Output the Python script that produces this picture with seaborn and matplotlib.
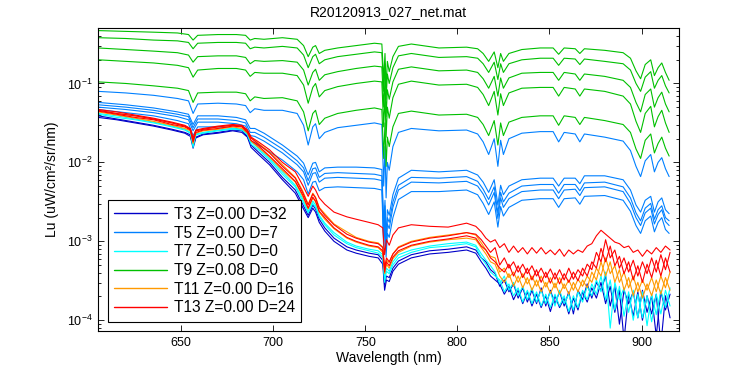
import numpy as np
import pandas as pd
import matplotlib
matplotlib.use("Agg")
import matplotlib.pyplot as plt
from matplotlib.lines import Line2D
import seaborn as sns

# wavelength grids (nm): upper spectra (T5, T9) and lower, noisier spectra
wl_up = [605, 620, 635, 648, 654, 656.5, 659, 670, 680, 685,
         687.5, 690, 695, 705, 713, 716.5, 719, 721.5, 723, 725,
         728, 735, 745, 755, 759, 760, 760.7, 761.3, 762, 763,
         765, 768, 775, 790, 805, 811, 814, 817, 820, 822,
         823.5, 825, 828, 835, 845, 852, 855, 858, 864, 866.5,
         869, 880, 890, 894, 897, 899.5, 902, 905, 907, 909,
         911, 913, 915]
wl_lo = [605, 615, 625, 635, 645, 652, 655, 656.5, 658, 662,
         670, 678, 683, 686, 688, 692, 698, 705, 712, 716,
         719, 721.5, 723, 725, 728, 733, 740, 745, 752, 757,
         759.5, 760.5, 761.5, 763, 765, 768, 775, 785, 795, 805,
         810, 813, 815.5, 818, 820.5, 823, 825.5, 828, 830.5, 833,
         835.5, 838, 840.5, 843, 845.5, 848, 850.5, 853, 855.5, 858,
         860.5, 863, 865.5, 868, 870.5, 873, 875.5, 878, 880.5, 883,
         885.5, 888, 890.5, 893, 895.5, 898, 900.5, 903, 905.5, 908,
         910.5, 913, 915.5]

# log10(Lu), one list per cast
t9_1 = [-0.33, -0.34, -0.35, -0.36, -0.38, -0.45, -0.39, -0.38, -0.38, -0.39,
        -0.45, -0.43, -0.44, -0.42, -0.44, -0.52, -0.66, -0.54, -0.52, -0.62,
        -0.58, -0.55, -0.52, -0.49, -0.50, -0.95, -0.62, -1.05, -0.72, -0.85,
        -0.66, -0.53, -0.50, -0.55, -0.54, -0.56, -0.62, -0.72, -0.60, -0.80,
        -0.62, -0.72, -0.62, -0.57, -0.55, -0.55, -0.63, -0.55, -0.56, -0.62,
        -0.56, -0.58, -0.61, -0.68, -0.84, -0.94, -0.76, -0.70, -0.90, -0.80,
        -0.74, -0.86, -0.96]
t9_2 = [-0.42, -0.43, -0.45, -0.46, -0.48, -0.56, -0.49, -0.48, -0.48, -0.49,
        -0.56, -0.54, -0.55, -0.53, -0.55, -0.64, -0.80, -0.66, -0.63, -0.75,
        -0.70, -0.66, -0.63, -0.60, -0.61, -1.10, -0.75, -1.20, -0.88, -1.00,
        -0.80, -0.65, -0.62, -0.67, -0.66, -0.68, -0.75, -0.86, -0.73, -0.95,
        -0.75, -0.86, -0.75, -0.70, -0.68, -0.68, -0.77, -0.68, -0.69, -0.76,
        -0.69, -0.72, -0.75, -0.83, -1.00, -1.10, -0.92, -0.85, -1.06, -0.96,
        -0.90, -1.03, -1.12]
t9_3 = [-0.55, -0.57, -0.59, -0.61, -0.64, -0.73, -0.66, -0.65, -0.65, -0.67,
        -0.75, -0.71, -0.72, -0.71, -0.73, -0.83, -1.02, -0.86, -0.82, -0.96,
        -0.89, -0.85, -0.81, -0.78, -0.79, -1.30, -0.95, -1.42, -1.08, -1.20,
        -0.98, -0.82, -0.79, -0.84, -0.83, -0.86, -0.94, -1.06, -0.91, -1.16,
        -0.93, -1.06, -0.93, -0.87, -0.86, -0.86, -0.96, -0.86, -0.88, -0.96,
        -0.88, -0.91, -0.96, -1.05, -1.24, -1.36, -1.14, -1.07, -1.30, -1.18,
        -1.11, -1.26, -1.36]
t9_4 = [-0.70, -0.72, -0.74, -0.77, -0.80, -0.92, -0.83, -0.81, -0.81, -0.83,
        -0.91, -0.86, -0.87, -0.87, -0.90, -1.02, -1.25, -1.05, -1.00, -1.17,
        -1.09, -1.04, -1.00, -0.97, -0.98, -1.55, -1.15, -1.68, -1.30, -1.44,
        -1.18, -1.01, -0.97, -1.02, -1.01, -1.05, -1.14, -1.28, -1.10, -1.40,
        -1.13, -1.28, -1.12, -1.06, -1.05, -1.05, -1.16, -1.05, -1.07, -1.16,
        -1.07, -1.10, -1.16, -1.26, -1.48, -1.62, -1.38, -1.29, -1.55, -1.42,
        -1.34, -1.50, -1.62]
t9_5 = [-0.98, -1.00, -1.03, -1.06, -1.09, -1.24, -1.12, -1.11, -1.11, -1.13,
        -1.22, -1.17, -1.19, -1.18, -1.22, -1.36, -1.60, -1.38, -1.34, -1.52,
        -1.44, -1.38, -1.34, -1.31, -1.33, -1.95, -1.50, -2.05, -1.68, -1.80,
        -1.55, -1.38, -1.35, -1.40, -1.39, -1.43, -1.52, -1.66, -1.47, -1.78,
        -1.50, -1.66, -1.49, -1.43, -1.41, -1.41, -1.53, -1.41, -1.43, -1.52,
        -1.43, -1.47, -1.52, -1.62, -1.83, -1.95, -1.72, -1.64, -1.88, -1.76,
        -1.68, -1.82, -1.92]

t5_1 = [-1.10, -1.12, -1.15, -1.19, -1.22, -1.38, -1.26, -1.25, -1.26, -1.28,
        -1.37, -1.32, -1.34, -1.34, -1.38, -1.53, -1.78, -1.55, -1.51, -1.70,
        -1.62, -1.56, -1.53, -1.50, -1.52, -2.30, -1.80, -2.45, -2.00, -2.10,
        -1.80, -1.62, -1.57, -1.60, -1.59, -1.64, -1.74, -1.90, -1.70, -2.05,
        -1.72, -1.90, -1.70, -1.63, -1.61, -1.61, -1.74, -1.62, -1.64, -1.74,
        -1.64, -1.68, -1.73, -1.85, -2.05, -2.18, -1.98, -1.90, -2.12, -2.00,
        -1.94, -2.08, -2.18]
t5_2 = [-1.24, -1.27, -1.31, -1.36, -1.39, -1.52, -1.41, -1.41, -1.43, -1.46,
        -1.57, -1.57, -1.63, -1.78, -1.92, -2.01, -2.16, -2.01, -2.00, -2.12,
        -2.07, -2.06, -2.06, -2.07, -2.09, -2.79, -2.48, -2.98, -2.60, -2.67,
        -2.41, -2.20, -2.10, -2.12, -2.10, -2.16, -2.25, -2.38, -2.22, -2.54,
        -2.29, -2.41, -2.30, -2.22, -2.20, -2.20, -2.30, -2.20, -2.20, -2.27,
        -2.17, -2.17, -2.22, -2.35, -2.54, -2.63, -2.48, -2.43, -2.63, -2.50,
        -2.45, -2.60, -2.65]
t5_3 = [-1.27, -1.30, -1.34, -1.39, -1.42, -1.56, -1.45, -1.45, -1.47, -1.50,
        -1.62, -1.62, -1.68, -1.83, -1.98, -2.07, -2.23, -2.08, -2.07, -2.19,
        -2.14, -2.13, -2.14, -2.15, -2.17, -2.90, -2.55, -3.05, -2.70, -2.76,
        -2.50, -2.29, -2.19, -2.20, -2.18, -2.24, -2.34, -2.47, -2.31, -2.64,
        -2.38, -2.50, -2.39, -2.30, -2.28, -2.28, -2.39, -2.28, -2.28, -2.36,
        -2.26, -2.25, -2.31, -2.45, -2.64, -2.74, -2.58, -2.52, -2.72, -2.60,
        -2.55, -2.70, -2.74]
t5_4 = [-1.30, -1.33, -1.37, -1.42, -1.46, -1.60, -1.49, -1.49, -1.51, -1.54,
        -1.66, -1.67, -1.73, -1.88, -2.03, -2.12, -2.29, -2.14, -2.13, -2.25,
        -2.20, -2.19, -2.20, -2.21, -2.23, -3.00, -2.62, -3.12, -2.78, -2.84,
        -2.57, -2.35, -2.25, -2.26, -2.24, -2.30, -2.40, -2.54, -2.38, -2.71,
        -2.45, -2.57, -2.46, -2.37, -2.35, -2.35, -2.46, -2.35, -2.34, -2.42,
        -2.32, -2.31, -2.37, -2.52, -2.70, -2.80, -2.64, -2.58, -2.78, -2.66,
        -2.60, -2.75, -2.80]
t5_5 = [-1.33, -1.37, -1.41, -1.47, -1.51, -1.66, -1.55, -1.55, -1.57, -1.61,
        -1.73, -1.75, -1.82, -1.97, -2.12, -2.22, -2.40, -2.25, -2.24, -2.36,
        -2.32, -2.31, -2.32, -2.33, -2.35, -3.10, -2.75, -3.20, -2.90, -2.95,
        -2.70, -2.47, -2.37, -2.37, -2.35, -2.41, -2.52, -2.66, -2.50, -2.82,
        -2.56, -2.68, -2.57, -2.48, -2.46, -2.46, -2.57, -2.46, -2.45, -2.53,
        -2.43, -2.42, -2.48, -2.62, -2.80, -2.90, -2.74, -2.68, -2.88, -2.76,
        -2.70, -2.85, -2.90]

t13_1 = [-1.34, -1.38, -1.41, -1.45, -1.50, -1.54, -1.58, -1.72, -1.60, -1.58,
         -1.55, -1.53, -1.54, -1.60, -1.69, -1.77, -1.88, -2.05, -2.20, -2.38,
         -2.54, -2.40, -2.45, -2.58, -2.67, -2.79, -2.91, -2.96, -3.01, -3.03,
         -3.08, -3.34, -3.21, -3.26, -3.16, -3.08, -3.01, -2.96, -2.93, -2.89,
         -2.91, -2.98, -3.06, -3.14, -3.08, -3.30, -3.21, -3.34, -3.26, -3.39,
         -3.29, -3.41, -3.31, -3.44, -3.34, -3.46, -3.35, -3.48, -3.36, -3.49,
         -3.34, -3.48, -3.36, -3.44, -3.29, -3.36, -3.14, -3.26, -2.98, -3.21,
         -3.11, -3.34, -3.21, -3.39, -3.24, -3.44, -3.26, -3.41, -3.21, -3.39,
         -3.17, -3.36, -3.14]
t13_2 = [-1.35, -1.39, -1.43, -1.46, -1.52, -1.55, -1.59, -1.74, -1.62, -1.59,
         -1.57, -1.54, -1.55, -1.62, -1.72, -1.79, -1.92, -2.08, -2.24, -2.41,
         -2.58, -2.44, -2.49, -2.62, -2.70, -2.83, -2.95, -3.00, -3.05, -3.07,
         -3.12, -3.39, -3.26, -3.31, -3.20, -3.12, -3.05, -3.00, -2.97, -2.93,
         -2.96, -3.06, -3.11, -3.21, -3.26, -3.34, -3.39, -3.29, -3.44, -3.31,
         -3.46, -3.34, -3.49, -3.36, -3.52, -3.39, -3.53, -3.40, -3.54, -3.41,
         -3.52, -3.39, -3.50, -3.34, -3.44, -3.26, -3.34, -3.09, -3.26, -3.06,
         -3.31, -3.19, -3.41, -3.26, -3.49, -3.31, -3.52, -3.29, -3.46, -3.24,
         -3.44, -3.21, -3.39]
t13_3 = [-1.33, -1.36, -1.40, -1.44, -1.49, -1.53, -1.57, -1.69, -1.59, -1.57,
         -1.54, -1.52, -1.53, -1.59, -1.68, -1.74, -1.84, -2.00, -2.12, -2.29,
         -2.43, -2.30, -2.35, -2.45, -2.53, -2.63, -2.69, -2.72, -2.76, -2.79,
         -2.83, -3.17, -2.98, -3.05, -2.92, -2.83, -2.79, -2.81, -2.82, -2.77,
         -2.81, -2.88, -2.96, -3.01, -2.98, -3.08, -3.03, -3.14, -3.06, -3.14,
         -3.08, -3.16, -3.08, -3.15, -3.08, -3.16, -3.11, -3.17, -3.10, -3.19,
         -3.11, -3.16, -3.11, -3.14, -3.06, -3.03, -2.93, -2.86, -2.91, -2.96,
         -3.01, -3.03, -3.08, -3.06, -3.14, -3.11, -3.19, -3.11, -3.16, -3.08,
         -3.14, -3.06, -3.11]

t11_1 = [-1.34, -1.38, -1.41, -1.45, -1.50, -1.54, -1.58, -1.73, -1.60, -1.58,
         -1.55, -1.53, -1.54, -1.60, -1.69, -1.76, -1.87, -2.03, -2.19, -2.36,
         -2.53, -2.39, -2.44, -2.57, -2.65, -2.78, -2.88, -2.95, -3.00, -3.02,
         -3.07, -3.36, -3.24, -3.27, -3.16, -3.07, -3.00, -2.95, -2.92, -2.89,
         -2.92, -3.02, -3.11, -3.19, -3.21, -3.39, -3.34, -3.46, -3.39, -3.52,
         -3.41, -3.54, -3.44, -3.57, -3.44, -3.58, -3.46, -3.59, -3.46, -3.60,
         -3.49, -3.62, -3.48, -3.57, -3.44, -3.52, -3.34, -3.44, -3.21, -3.41,
         -3.31, -3.52, -3.39, -3.59, -3.44, -3.64, -3.49, -3.62, -3.46, -3.64,
         -3.44, -3.59, -3.39]
t11_2 = [-1.36, -1.40, -1.44, -1.48, -1.53, -1.57, -1.60, -1.76, -1.63, -1.60,
         -1.58, -1.55, -1.57, -1.63, -1.73, -1.81, -1.93, -2.10, -2.25, -2.43,
         -2.59, -2.45, -2.50, -2.63, -2.72, -2.84, -2.96, -3.01, -3.06, -3.08,
         -3.14, -3.41, -3.29, -3.34, -3.22, -3.14, -3.06, -3.01, -2.98, -2.96,
         -2.98, -3.08, -3.16, -3.26, -3.29, -3.44, -3.52, -3.41, -3.57, -3.44,
         -3.59, -3.46, -3.62, -3.49, -3.64, -3.52, -3.66, -3.53, -3.67, -3.54,
         -3.67, -3.52, -3.64, -3.49, -3.59, -3.39, -3.49, -3.26, -3.44, -3.26,
         -3.52, -3.36, -3.62, -3.46, -3.69, -3.52, -3.72, -3.54, -3.69, -3.49,
         -3.67, -3.46, -3.62]

t7_1 = [-1.38, -1.41, -1.45, -1.49, -1.54, -1.58, -1.62, -1.78, -1.64, -1.62,
        -1.59, -1.57, -1.58, -1.64, -1.74, -1.82, -1.95, -2.12, -2.29, -2.46,
        -2.62, -2.49, -2.54, -2.67, -2.77, -2.89, -3.01, -3.06, -3.10, -3.12,
        -3.17, -3.46, -3.34, -3.38, -3.26, -3.17, -3.11, -3.06, -3.03, -3.01,
        -3.05, -3.16, -3.24, -3.31, -3.39, -3.54, -3.44, -3.62, -3.52, -3.69,
        -3.57, -3.74, -3.59, -3.77, -3.62, -3.79, -3.64, -3.82, -3.62, -3.79,
        -3.67, -3.87, -3.64, -3.77, -3.57, -3.69, -3.49, -3.64, -3.39, -4.10,
        -3.52, -3.74, -3.59, -3.90, -3.62, -3.97, -3.64, -4.07, -3.67, -3.93,
        -3.62, -3.84, -3.59]
t7_2 = [-1.39, -1.43, -1.46, -1.50, -1.55, -1.59, -1.63, -1.81, -1.65, -1.63,
        -1.60, -1.58, -1.59, -1.65, -1.77, -1.84, -1.97, -2.15, -2.31, -2.49,
        -2.64, -2.52, -2.57, -2.69, -2.79, -2.92, -3.03, -3.08, -3.12, -3.15,
        -3.20, -3.52, -3.38, -3.41, -3.30, -3.21, -3.14, -3.08, -3.06, -3.03,
        -3.07, -3.21, -3.29, -3.39, -3.44, -3.49, -3.64, -3.54, -3.69, -3.59,
        -3.77, -3.62, -3.79, -3.64, -3.82, -3.67, -3.84, -3.67, -3.82, -3.69,
        -3.89, -3.69, -3.84, -3.62, -3.74, -3.54, -3.67, -3.44, -3.74, -3.49,
        -3.87, -3.57, -3.95, -3.64, -4.00, -3.67, -3.97, -3.69, -4.02, -3.67,
        -3.92, -3.62, -3.82]

t3_1 = [-1.41, -1.45, -1.49, -1.53, -1.58, -1.62, -1.65, -1.79, -1.68, -1.64,
        -1.62, -1.59, -1.60, -1.67, -1.78, -1.87, -2.00, -2.19, -2.35, -2.53,
        -2.67, -2.54, -2.59, -2.72, -2.83, -2.96, -3.07, -3.11, -3.15, -3.17,
        -3.24, -3.55, -3.44, -3.46, -3.34, -3.25, -3.17, -3.12, -3.10, -3.07,
        -3.11, -3.21, -3.26, -3.36, -3.41, -3.57, -3.49, -3.64, -3.54, -3.72,
        -3.59, -3.77, -3.62, -3.79, -3.59, -3.82, -3.62, -3.79, -3.64, -3.82,
        -3.64, -3.92, -3.62, -3.74, -3.54, -3.72, -3.52, -3.62, -3.44, -3.82,
        -3.57, -4.05, -3.62, -3.79, -3.64, -3.97, -3.62, -3.90, -3.69, -4.20,
        -3.64, -3.87, -3.67]
t3_2 = [-1.43, -1.46, -1.50, -1.54, -1.59, -1.63, -1.67, -1.82, -1.69, -1.65,
        -1.63, -1.60, -1.62, -1.68, -1.81, -1.90, -2.03, -2.22, -2.39, -2.57,
        -2.70, -2.58, -2.63, -2.76, -2.87, -3.00, -3.11, -3.15, -3.19, -3.21,
        -3.29, -3.62, -3.49, -3.51, -3.38, -3.29, -3.21, -3.16, -3.14, -3.11,
        -3.15, -3.26, -3.34, -3.44, -3.49, -3.54, -3.67, -3.57, -3.74, -3.62,
        -3.79, -3.64, -3.82, -3.67, -3.84, -3.69, -3.89, -3.69, -3.84, -3.72,
        -3.92, -3.72, -3.87, -3.64, -3.77, -3.59, -3.72, -3.52, -3.79, -3.57,
        -3.90, -3.62, -4.25, -3.67, -3.95, -3.64, -4.00, -3.69, -3.92, -3.67,
        -4.31, -3.69, -3.97]

labels = ["T3 Z=0.00 D=32", "T5 Z=0.00 D=7", "T7 Z=0.50 D=0",
          "T9 Z=0.08 D=0", "T11 Z=0.00 D=16", "T13 Z=0.00 D=24"]
colors = ["#0000c8", "#0080ff", "#00ffff", "#00c000", "#ff9900", "#ff0000"]

casts = [
    (labels[0], [t3_1, t3_2], wl_lo),
    (labels[1], [t5_1, t5_2, t5_3, t5_4, t5_5], wl_up),
    (labels[2], [t7_1, t7_2], wl_lo),
    (labels[3], [t9_1, t9_2, t9_3, t9_4, t9_5], wl_up),
    (labels[4], [t11_1, t11_2], wl_lo),
    (labels[5], [t13_1, t13_2, t13_3], wl_lo),
]

frames = []
for station, spectra, wl in casts:
    for i, lg in enumerate(spectra):
        frames.append(pd.DataFrame({
            "wavelength": wl,
            "lu": 10 ** np.asarray(lg),
            "station": station,
            "cast": f"{station}#{i}",
        }))
df = pd.concat(frames, ignore_index=True)

sns.set_style("ticks", {"axes.edgecolor": "black", "text.color": "black",
                        "axes.labelcolor": "black", "xtick.color": "black",
                        "ytick.color": "black"})
plt.rcParams["font.family"] = ["Liberation Sans", "DejaVu Sans"]

fig = plt.figure(figsize=(7.5, 3.75), dpi=100)
ax = fig.add_axes([0.131, 0.1173, 0.7747, 0.8072])
ax.set_yscale("log")

sns.lineplot(data=df, x="wavelength", y="lu", hue="station", hue_order=labels,
             palette=colors, units="cast", estimator=None, sort=False,
             linewidth=0.8, legend=False, ax=ax)

ax.set_xlim(605, 920.5)
ax.set_ylim(7.3e-5, 0.5)
ax.set_xticks([650, 700, 750, 800, 850, 900])
ax.tick_params(which="both", direction="in", top=True, right=True,
               width=0.6, labelsize=9, pad=4)
ax.tick_params(which="major", length=4.5)
ax.tick_params(which="minor", length=2.2)
for s in ax.spines.values():
    s.set_linewidth(0.8)
    s.set_color("black")

ax.set_title("R20120913_027_net.mat", fontsize=10, pad=9)
ax.set_xlabel("Wavelength (nm)", fontsize=10, labelpad=2)
ax.set_ylabel("Lu (uW/cm²/sr/nm)", fontsize=10, labelpad=6)

handles = [Line2D([], [], color=c, lw=1.0) for c in colors]
leg = ax.legend(handles, labels, loc="lower left", bbox_to_anchor=(0.0167, 0.0297),
                borderaxespad=0, fontsize=11.2, handlelength=3.4, handletextpad=0.4,
                labelspacing=0.24, borderpad=0.42, frameon=True, fancybox=False,
                framealpha=1, edgecolor="black")
leg.get_frame().set_linewidth(0.8)

fig.savefig("out.png", dpi=100)
